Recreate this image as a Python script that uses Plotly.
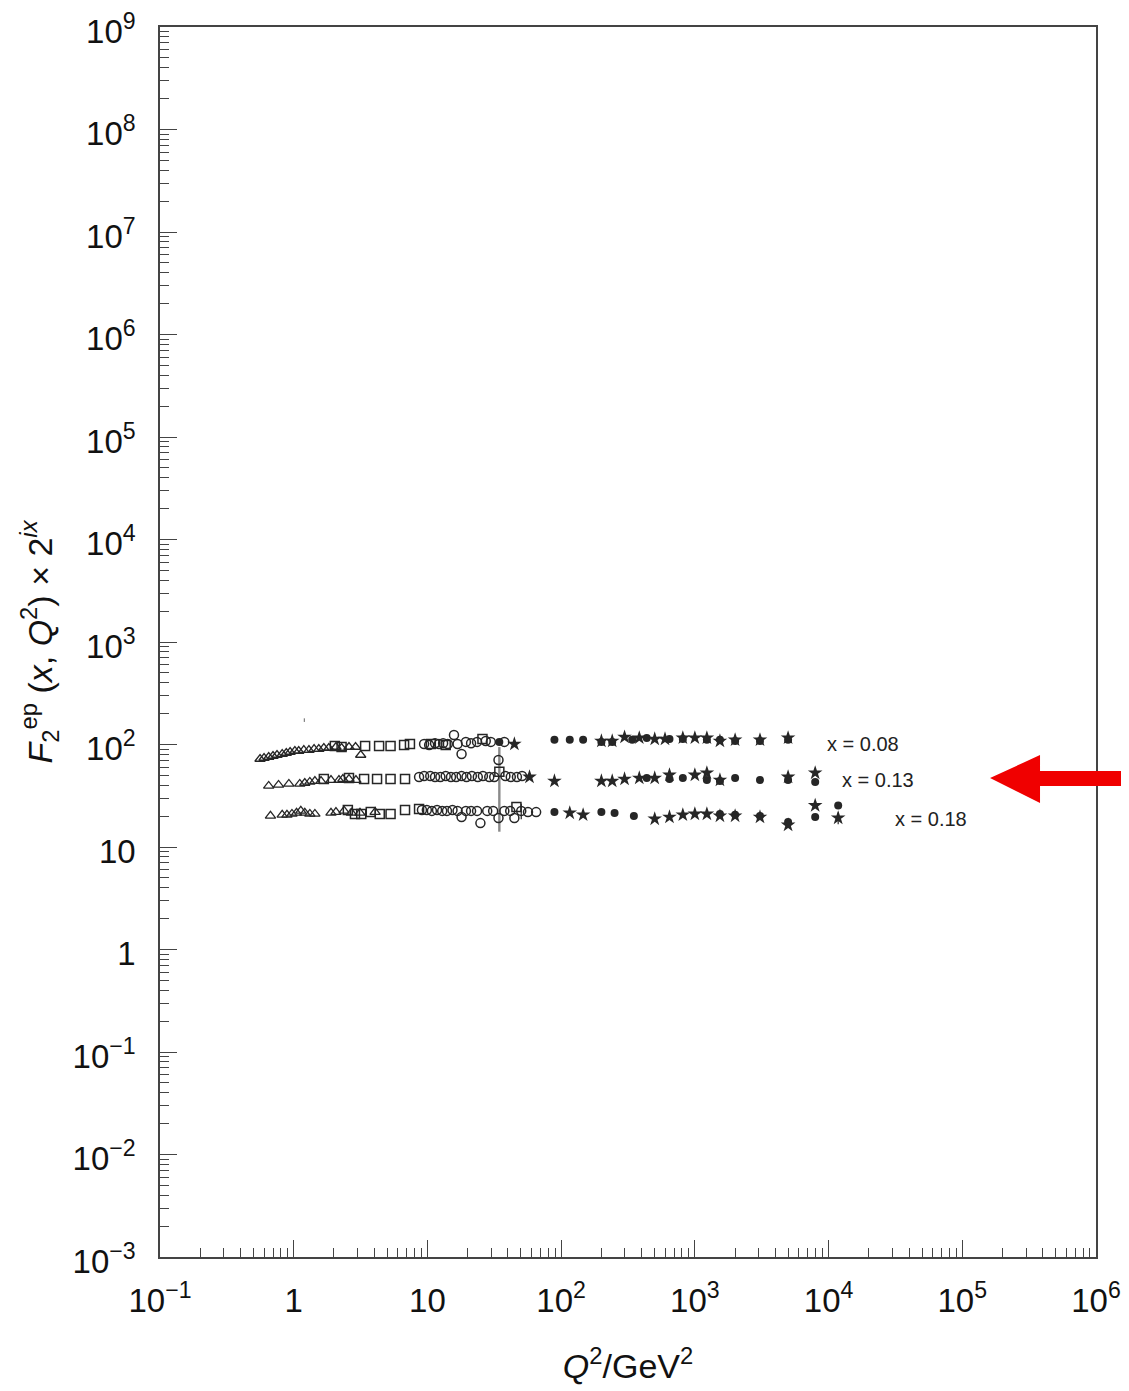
import math
import plotly.graph_objects as go

# ---------------- data ----------------
# Open triangles
tri_q2 = [0.56, 0.60, 0.65, 0.70, 0.75, 0.82, 0.88, 0.94, 1.02, 1.09, 1.19, 1.30, 1.42, 1.54, 1.68, 1.83, 2.07, 2.28, 2.59, 2.90, 3.17,
          0.65, 0.77, 0.92, 1.11, 1.21, 1.32, 1.44, 1.60, 1.90, 2.18, 2.33, 2.59, 2.92,
          0.67, 0.82, 0.89, 0.97, 1.05, 1.13, 1.21, 1.32, 1.44, 1.90, 2.07, 2.38, 2.70, 3.13, 4.06]
tri_f2 = [72.2, 73.8, 75.5, 77.2, 79.0, 80.7, 82.6, 84.5, 86.4, 86.4, 88.3, 88.3, 90.3, 90.3, 92.4, 92.4, 94.5, 92.4, 94.5, 94.5, 79.0,
          39.4, 40.3, 41.2, 41.2, 42.1, 43.1, 44.0, 44.0, 45.0, 45.0, 46.0, 46.0, 45.0,
          20.1, 20.6, 20.6, 21.0, 21.5, 22.5, 21.5, 21.0, 21.0, 21.5, 21.9, 22.5, 21.5, 21.5, 21.9]

# Open squares
sq_q2 = [2.03, 2.28, 3.42, 4.35, 5.30, 6.69, 7.40, 10.6, 13.7, 25.8,
         1.68, 2.59, 3.36, 4.20, 5.30, 6.80, 34.5,
         2.54, 2.87, 3.20, 3.77, 4.40, 5.30, 6.80, 8.66, 46.3]
sq_f2 = [96.6, 94.5, 96.6, 96.6, 96.6, 98.8, 101, 101, 98.8, 113,
         46.0, 47.1, 46.0, 46.0, 46.0, 46.0, 54.2,
         23.0, 21.0, 21.0, 21.9, 21.0, 21.0, 23.0, 23.5, 24.6]
sq_err = [0, 0, 0, 0, 0, 0, 0, 0, 0, 0,
          0, 0, 0, 0, 0, 0, 40.1,
          0, 0, 0, 0, 0, 0, 0, 0, 0]

# Open circles
oc_q2 = [9.44, 10.3, 11.4, 12.2, 13.1, 14.2, 15.8, 16.8, 18.0, 19.4, 21.2, 23.5, 27.3, 29.8, 34.0, 37.6,
         8.66, 9.44, 10.5, 11.4, 12.5, 13.7, 15.0, 16.4, 18.0, 19.6, 21.5, 23.8, 26.0, 29.0, 31.6, 38.3, 42.0, 46.7, 51.0,
         9.1, 9.9, 10.8, 11.8, 12.9, 14.0, 15.4, 16.8, 18.0, 19.4, 21.2, 23.5, 24.9, 28.0, 31.0, 34.0, 37.6, 41.6, 44.7, 50.3, 56.5, 65.0]
oc_f2 = [101, 98.8, 103, 101, 103, 101, 124, 101, 80.7, 106, 103, 106, 108, 106, 70.6, 106,
         48.2, 49.3, 49.3, 48.2, 48.2, 49.3, 48.2, 48.2, 49.3, 48.2, 49.3, 48.2, 49.3, 48.2, 48.2, 49.3, 48.2, 48.2, 49.3,
         23.0, 23.0, 22.5, 23.0, 22.5, 22.5, 23.0, 22.5, 19.6, 22.5, 22.5, 22.5, 17.1, 22.5, 22.5, 19.2, 22.5, 22.5, 19.2, 22.5, 21.9, 21.9]
oc_err = [0] * 16 + [0] * 19 + [0] * 19 + [3.9] + [0] * 3

# Filled circles
fc_q2 = [34.5, 89.1, 116, 146, 200, 241, 340, 437, 646, 813, 1230, 1540, 2000, 3070, 4980,
         437, 646, 813, 1230, 1540, 2000, 3070, 4980, 7940,
         89.1, 200, 251, 350, 1540, 2000, 3070, 4980, 7940, 11800]
fc_f2 = [106, 111, 111, 111, 106, 106, 111, 116, 113, 113, 111, 111, 108, 108, 111,
         47.1, 46.0, 47.1, 45.0, 44.0, 47.1, 45.0, 45.0, 43.1,
         21.9, 21.9, 21.5, 20.1, 21.0, 20.6, 20.1, 17.5, 19.6, 25.4]

# Filled stars
st_q2 = [44.7, 200, 241, 298, 384, 501, 598, 813, 1000, 1230, 1540, 2000, 3070, 4980,
         58.0, 89.1, 200, 241, 298, 384, 501, 646, 1000, 1230, 1540, 4980, 7940,
         116, 146, 501, 646, 813, 1000, 1230, 1540, 2000, 3070, 4980, 7940, 11800]
st_f2 = [101, 108, 108, 118, 116, 113, 113, 116, 116, 116, 108, 111, 111, 116,
         48.2, 44.0, 44.0, 44.0, 46.0, 47.1, 47.1, 50.4, 50.4, 52.8, 45.0, 48.2, 52.8,
         21.5, 20.6, 18.8, 19.6, 20.6, 21.0, 21.0, 20.1, 20.1, 19.6, 16.4, 25.4, 19.2]
st_err = [0] * 14 + [0] * 13 + [0] * 12 + [2.5]

# Lone error bar (marker not visible)
lone_q2 = [1.2]
lone_f2 = [173]
lone_err = [7]

# Row labels
row_labels = ["x = 0.08", "x = 0.13", "x = 0.18"]
row_label_q2 = [9400, 12200, 30400]
row_label_f2 = [101, 45, 18.8]

# Ticks
x_tickvals = [0.1, 1, 10, 100, 1e3, 1e4, 1e5, 1e6]
x_ticktext = ["10<sup>\u22121</sup>", "1", "10", "10<sup>2</sup>", "10<sup>3</sup>",
              "10<sup>4</sup>", "10<sup>5</sup>", "10<sup>6</sup>"]
y_tickvals = [1e-3, 1e-2, 1e-1, 1, 10, 100, 1e3, 1e4, 1e5, 1e6, 1e7, 1e8, 1e9]
y_ticktext = ["10<sup>\u22123</sup>", "10<sup>\u22122</sup>", "10<sup>\u22121</sup>", "1", "10",
              "10<sup>2</sup>", "10<sup>3</sup>", "10<sup>4</sup>", "10<sup>5</sup>",
              "10<sup>6</sup>", "10<sup>7</sup>", "10<sup>8</sup>", "10<sup>9</sup>"]

# ---------------- figure ----------------
INK = "#262626"
FONT = "Liberation Sans, Arial, Helvetica, sans-serif"

fig = go.Figure()

fig.add_trace(go.Scatter(
    x=lone_q2, y=lone_f2, mode="markers",
    marker=dict(size=1, color="rgba(0,0,0,0)"),
    error_y=dict(type="data", array=lone_err, color="#666", thickness=1, width=0),
    showlegend=False, hoverinfo="skip"))

fig.add_trace(go.Scatter(
    x=sq_q2, y=sq_f2, mode="markers",
    marker=dict(symbol="square-open", size=9, color=INK, line=dict(width=1.5, color=INK)),
    error_y=dict(type="data", array=sq_err, color="#8a8a8a", thickness=2.4, width=0),
    showlegend=False))

fig.add_trace(go.Scatter(
    x=tri_q2, y=tri_f2, mode="markers",
    marker=dict(symbol="triangle-up-open", size=9, color=INK, line=dict(width=1.3, color=INK)),
    showlegend=False))

fig.add_trace(go.Scatter(
    x=oc_q2, y=oc_f2, mode="markers",
    marker=dict(symbol="circle-open", size=9, color=INK, line=dict(width=1.5, color=INK)),
    error_y=dict(type="data", array=oc_err, color=INK, thickness=1.2, width=0),
    showlegend=False))

fig.add_trace(go.Scatter(
    x=fc_q2, y=fc_f2, mode="markers",
    marker=dict(symbol="circle", size=8, color=INK, line=dict(width=0)),
    showlegend=False))

fig.add_trace(go.Scatter(
    x=st_q2, y=st_f2, mode="markers",
    marker=dict(symbol="star", size=11, color=INK, line=dict(width=0)),
    error_y=dict(type="data", array=st_err, color=INK, thickness=1.2, width=0),
    showlegend=False))

# annotation positions on log axes are given in log10 units
for t, q, f in zip(row_labels, row_label_q2, row_label_f2):
    fig.add_annotation(x=math.log10(q), y=math.log10(f), xref="x", yref="y", text=t,
                       showarrow=False, xanchor="left", yanchor="middle",
                       font=dict(family=FONT, size=20, color="#222"))

# Red arrow pointing at the x = 0.13 row (drawn in paper coordinates)
fig.add_shape(type="path", xref="paper", yref="paper",
              path="M 0.8868,0.3894 L 0.9402,0.4081 L 0.9402,0.3951 L 1.04,0.3951 "
                   "L 1.04,0.3829 L 0.9402,0.3829 L 0.9402,0.3691 Z",
              fillcolor="#f00000", line=dict(width=0), layer="above")

axis_common = dict(
    type="log",
    automargin=False,
    ticklabeloverflow="allow",
    showgrid=False,
    zeroline=False,
    showline=True,
    linecolor="#444",
    linewidth=1.5,
    mirror=True,
    ticks="inside",
    ticklen=17,
    tickwidth=1.2,
    tickcolor="#444",
    tickfont=dict(family=FONT, size=33, color="#111"),
    minor=dict(ticks="inside", ticklen=9, tickwidth=1.1, tickcolor="#444",
               dtick="D1", showgrid=False),
)

fig.update_xaxes(
    **axis_common,
    range=[-1, 6],
    tickmode="array", tickvals=x_tickvals, ticktext=x_ticktext,
    ticklabelstandoff=14,
    title=dict(text="<i>Q</i><sup>2</sup>/GeV<sup>2</sup>",
               font=dict(family=FONT, size=34, color="#111"), standoff=36),
)
fig.update_yaxes(
    **axis_common,
    range=[-3, 9],
    tickmode="array", tickvals=y_tickvals, ticktext=y_ticktext,
    ticklabelstandoff=16,
    ticklabelshift=4,
    title=dict(text="<i>F</i><sub>2</sub><sup>ep</sup> (<i>x</i>, <i>Q</i><sup>2</sup>) \u00d7 2<sup><i>ix</i></sup>",
               font=dict(family=FONT, size=34, color="#111"), standoff=10),
)

# The page body adds an 8 px margin, so the figure is sized and offset to
# put the plot area at the reference position within the 1129x1391 window.
fig.update_layout(
    width=1121, height=1383,
    margin=dict(l=152, r=33, t=19, b=134),
    paper_bgcolor="white",
    plot_bgcolor="white",
    font=dict(family=FONT),
    showlegend=False,
)

fig.write_html("out.html")
